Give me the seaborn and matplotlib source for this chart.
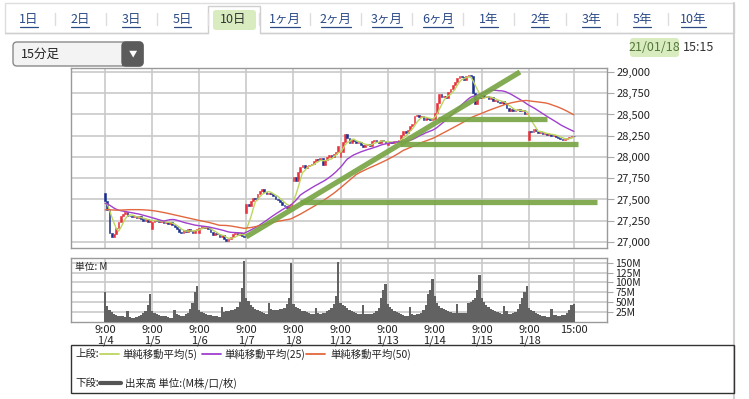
import numpy as np
import pandas as pd
import matplotlib
import matplotlib.pyplot as plt
import seaborn as sns
from matplotlib.patches import Rectangle, FancyBboxPatch
from matplotlib.lines import Line2D

matplotlib.use('agg')
sns.set_style('white')
plt.rcParams['font.family'] = ['Noto Sans CJK JP', 'DejaVu Sans']

# ---- data (15-minute bars, 21 per day) ----
DAYS = ['1/4', '1/5', '1/6', '1/7', '1/8', '1/12', '1/13', '1/14', '1/15', '1/18']
BARS_PER_DAY = 21
DAY_OPEN = [27575, 27151, 27102, 27340, 27720, 28004, 28140, 28446, 28690, 28200]

C_0104 = [27480, 27380, 27100, 27060, 27090, 27160, 27230, 27300, 27330, 27350, 27310,
          27300, 27290, 27300, 27280, 27300, 27270, 27250, 27270, 27240, 27258]
C_0105 = [27240, 27260, 27250, 27230, 27250, 27220, 27240, 27210, 27230, 27200, 27180,
          27150, 27120, 27110, 27140, 27120, 27150, 27130, 27110, 27140, 27158]
C_0106 = [27170, 27190, 27160, 27180, 27150, 27120, 27080, 27100, 27090, 27060, 27080,
          27040, 27010, 27030, 27060, 27090, 27100, 27080, 27100, 27070, 27055]
C_0107 = [27450, 27420, 27480, 27520, 27500, 27560, 27600, 27620, 27590, 27570, 27580,
          27560, 27540, 27510, 27490, 27470, 27440, 27420, 27400, 27420, 27450]
C_0108 = [27760, 27720, 27820, 27880, 27900, 27870, 27890, 27910, 27920, 27950, 27980,
          27960, 27990, 27900, 27960, 28000, 28020, 28000, 28040, 28060, 28130]
C_0112 = [28060, 28180, 28270, 28220, 28170, 28200, 28190, 28170, 28180, 28140, 28120,
          28140, 28150, 28130, 28190, 28200, 28180, 28170, 28200, 28190, 28164]
C_0113 = [28160, 28180, 28170, 28190, 28180, 28200, 28260, 28300, 28280, 28320, 28360,
          28390, 28480, 28490, 28470, 28480, 28440, 28460, 28450, 28440, 28456]
C_0114 = [28520, 28640, 28740, 28700, 28720, 28690, 28760, 28800, 28850, 28880, 28930,
          28950, 28940, 28900, 28950, 28960, 28950, 28750, 28620, 28700, 28698]
C_0115 = [28730, 28700, 28720, 28680, 28700, 28660, 28670, 28650, 28640, 28660, 28620,
          28580, 28540, 28560, 28540, 28550, 28560, 28540, 28550, 28510, 28519]
C_0118 = [28300, 28290, 28330, 28310, 28280, 28290, 28270, 28280, 28260, 28270, 28250,
          28260, 28240, 28220, 28210, 28200, 28210, 28220, 28230, 28250, 28242]

# closes before 1/4 (not shown), only used for the moving averages
PRIOR_CLOSES = [27150, 27180, 27200, 27190, 27220, 27240, 27230, 27250, 27260, 27270,
                27260, 27280, 27290, 27300, 27310, 27300, 27320, 27330, 27340, 27360,
                27400, 27430, 27450, 27470, 27480, 27500, 27490, 27510, 27520, 27500,
                27480, 27460, 27450, 27440, 27430, 27420, 27430, 27440, 27420, 27410,
                27430, 27440, 27450, 27430, 27420, 27440, 27450, 27460, 27444]

# volume, M shares
V_0104 = [75, 40, 30, 25, 20, 18, 16, 15, 14, 13, 29, 12, 10, 11, 13, 15, 18, 22, 28, 42, 70]
V_0105 = [27, 23, 20, 18, 16, 15, 14, 12, 11, 10, 31, 19, 17, 16, 15, 19, 24, 32, 48, 75, 90]
V_0106 = [30, 25, 22, 20, 18, 17, 16, 15, 14, 13, 38, 26, 27, 29, 30, 31, 33, 38, 50, 85, 155]
V_0107 = [60, 52, 42, 38, 34, 31, 28, 25, 22, 20, 48, 32, 31, 30, 30, 32, 33, 35, 45, 62, 150]
V_0108 = [45, 38, 35, 32, 29, 27, 25, 23, 21, 19, 35, 22, 20, 22, 24, 27, 30, 36, 45, 65, 152]
V_0112 = [48, 44, 40, 35, 31, 27, 25, 23, 20, 19, 44, 20, 19, 20, 20, 23, 27, 35, 60, 80, 95]
V_0113 = [45, 38, 33, 28, 25, 22, 20, 18, 16, 15, 37, 19, 18, 21, 20, 24, 30, 44, 70, 80, 108]
V_0114 = [65, 48, 40, 36, 33, 30, 28, 26, 24, 22, 45, 23, 23, 22, 24, 48, 50, 55, 62, 80, 118]
V_0115 = [62, 50, 42, 38, 34, 30, 27, 25, 23, 21, 40, 27, 21, 19, 22, 26, 33, 45, 60, 75, 90]
V_0118 = [35, 30, 27, 23, 20, 18, 16, 15, 13, 12, 34, 18, 17, 16, 16, 17, 18, 22, 30, 42, 45]

# hand-drawn trend lines: (bar position, price) pairs
TREND_LINES = [
    [(62.9, 27060), (185.0, 29000)],
    [(87.0, 27475), (219.3, 27475)],
    [(131.5, 28150), (210.9, 28150)],
    [(148.5, 28447), (197.1, 28447)],
]

MA_WINDOWS = [5, 25, 50]
MA_COLORS = ['#bcd660', '#a13fcf', '#e2673f']
MA_LABELS = ['単純移動平均(5)', '単純移動平均(25)', '単純移動平均(50)']
TABS = ['1日', '2日', '3日', '5日', '10日', '1ヶ月', '2ヶ月', '3ヶ月', '6ヶ月',
        '1年', '2年', '3年', '5年', '10年']
SELECTED_TAB = '10日'

# ---- assemble bars ----
closes = np.array(C_0104 + C_0105 + C_0106 + C_0107 + C_0108 +
                  C_0112 + C_0113 + C_0114 + C_0115 + C_0118, dtype=float)
volumes = np.array(V_0104 + V_0105 + V_0106 + V_0107 + V_0108 +
                   V_0112 + V_0113 + V_0114 + V_0115 + V_0118, dtype=float)
n = len(closes)
pos = np.arange(n)
opens = np.r_[np.nan, closes[:-1]]
for d, o in enumerate(DAY_OPEN):
    opens[d * BARS_PER_DAY] = o

full = pd.Series(PRIOR_CLOSES + list(closes))
ma_frames = []
for w, lab in zip(MA_WINDOWS, MA_LABELS):
    ma = full.rolling(w).mean().to_numpy()[-n:]
    ma_frames.append(pd.DataFrame({'pos': pos, 'value': ma, 'series': lab}))
ma_df = pd.concat(ma_frames, ignore_index=True)

# ---- figure in pixel layout ----
W, H = 749, 399
fig = plt.figure(figsize=(W / 100, H / 100), dpi=100)


def box(x0, y0, x1, y1):
    return [x0 / W, 1 - y1 / H, (x1 - x0) / W, (y1 - y0) / H]


ui = fig.add_axes([0, 0, 1, 1], zorder=0)
ui.set_xlim(0, W)
ui.set_ylim(H, 0)
ui.axis('off')

ax_p = fig.add_axes(box(71, 68, 607, 248), zorder=2)
ax_v = fig.add_axes(box(71, 258, 607, 322), zorder=2)

grid_c = '#c9c9c9'
spine_c = '#9a9a9a'
day_ticks = [d * BARS_PER_DAY for d in range(len(DAYS))]
xlim = (-15.2, 223.8)

# price panel
up = closes >= opens
colors = np.where(up, '#e8313a', '#1b2f8f')
body = np.maximum(np.abs(closes - opens), 8)
ax_p.bar(pos, body, bottom=np.minimum(opens, closes), width=0.8,
         color=colors, edgecolor=colors, linewidth=0.4, zorder=3)
sns.lineplot(data=ma_df, x='pos', y='value', hue='series', palette=MA_COLORS,
             hue_order=MA_LABELS, linewidth=1.0, legend=False, ax=ax_p,
             estimator=None, sort=False, zorder=4)
for (x0, y0), (x1, y1) in TREND_LINES:
    ax_p.plot([x0, x1], [y0, y1], color='#78a545', lw=3.8, alpha=0.92,
              solid_capstyle='butt', zorder=5, clip_on=False)

ax_p.set_xlim(*xlim)
ax_p.set_ylim(26929, 29047)
yt = np.arange(27000, 29001, 250)
ax_p.set_yticks(yt)
ax_p.set_yticklabels([f'{v:,}' for v in yt])
ax_p.set_xticks(day_ticks + [n - 1])
ax_p.tick_params(axis='x', length=0, labelbottom=False)
ax_p.yaxis.tick_right()
ax_p.tick_params(axis='y', length=5, color='#aaaaaa', labelsize=8, pad=2,
                 labelcolor='#222222')
ax_p.grid(True, color=grid_c, lw=1.2)
ax_p.set_axisbelow(True)
ax_p.set_xlabel('')
ax_p.set_ylabel('')

# volume panel
sns.barplot(x=pos, y=volumes, native_scale=True, color='#626262', saturation=1,
            width=1.0, linewidth=0, errorbar=None, ax=ax_v, zorder=3)
ax_v.set_xlim(*xlim)
ax_v.set_ylim(0, 162)
vt = np.arange(25, 151, 25)
ax_v.set_yticks(vt)
ax_v.set_yticklabels([f'{v}M' for v in vt])
ax_v.yaxis.tick_right()
ax_v.tick_params(axis='y', length=4, color='#aaaaaa', labelsize=7.5, pad=2,
                 labelcolor='#222222')
xt = day_ticks + [n - 1]
ax_v.set_xticks(xt)
ax_v.set_xticklabels([f'9:00\n{d}' for d in DAYS] + ['15:00'],
                     fontsize=8, linespacing=1.05, color='#222222')
ax_v.tick_params(axis='x', length=0, pad=2)
ax_v.grid(True, color=grid_c, lw=1.2)
ax_v.set_axisbelow(True)
ax_v.set_xlabel('')
ax_v.set_ylabel('')
ax_v.text(0.008, 0.93, '単位: M', transform=ax_v.transAxes, fontsize=7,
          va='top', ha='left', color='#222222', zorder=6)

for a in (ax_p, ax_v):
    for s in a.spines.values():
        s.set_color(spine_c)
        s.set_linewidth(1.0)

# ---- UI chrome ----
line_c = '#cfcfcf'
ui.add_patch(Rectangle((5, 3), 729, 30, fill=False, ec='#dddddd', lw=1))
ui.plot([5, 208], [33, 33], color=line_c, lw=1)
ui.plot([260, 734], [33, 33], color=line_c, lw=1)
ui.plot([208, 208, 260, 260], [33, 6, 6, 33], color=line_c, lw=1)
ui.add_patch(Rectangle((209, 7), 50, 27, color='white', zorder=1))
ui.add_patch(FancyBboxPatch((213, 10), 43, 20, boxstyle='round,pad=0,rounding_size=3',
                            fc='#d8ecc0', ec='none', zorder=2))
ui.plot([734, 734], [3, 399], color=line_c, lw=1.5)

tab_texts = []
for k, t in enumerate(TABS):
    cx = 29 + 51.1 * k
    sel = t == SELECTED_TAB
    tt = ui.text(cx, 19, t, ha='center', va='center', fontsize=9,
                 color='#333333' if sel else '#2b4a86', zorder=3)
    if not sel:
        tab_texts.append(tt)
    if k < len(TABS) - 1:
        ui.plot([cx + 25.5, cx + 25.5], [13, 25], color='#dddddd', lw=1)

# dropdown
ui.add_patch(FancyBboxPatch((13, 42), 130, 24, boxstyle='round,pad=0,rounding_size=4',
                            fc='#f3f3f3', ec='#8a8a8a', lw=1, zorder=2))
ui.add_patch(FancyBboxPatch((122, 42), 21, 24, boxstyle='round,pad=0,rounding_size=4',
                            fc='#5b5b5b', ec='#5b5b5b', lw=1, zorder=3))
ui.add_patch(Rectangle((122, 42.5), 6, 23, fc='#5b5b5b', ec='none', zorder=3))
ui.text(132.5, 54, '▼', ha='center', va='center', fontsize=6, color='white', zorder=4)
ui.text(21, 54.5, '15分足', ha='left', va='center', fontsize=9, color='#222222', zorder=4)

# date stamp
ui.add_patch(FancyBboxPatch((630, 38), 49, 19, boxstyle='round,pad=0,rounding_size=3',
                            fc='#d8ecc0', ec='none', zorder=2))
ui.text(654.5, 47.5, '21/01/18', ha='center', va='center', fontsize=9,
        color='#55773a', zorder=3)
ui.text(683, 47.5, '15:15', ha='left', va='center', fontsize=9, color='#333333', zorder=3)

# legend box
ui.add_patch(Rectangle((71, 345), 663, 48, fill=False, ec='#333333', lw=1, zorder=2))
ui.text(75, 354, '上段:', ha='left', va='center', fontsize=7.5, color='#222222')
leg_x = [(100, 122), (202, 224), (306, 330)]
for (lx, tx), c, lab in zip(leg_x, MA_COLORS, MA_LABELS):
    ui.plot([lx, lx + 19], [354, 354], color=c, lw=1.3)
    ui.text(tx, 354, lab, ha='left', va='center', fontsize=7.5, color='#222222')
ui.text(75, 383, '下段:', ha='left', va='center', fontsize=7.5, color='#222222')
ui.plot([100, 121], [383, 383], color='#555555', lw=3)
ui.text(125, 383, '出来高 単位:(M株/口/枚)', ha='left', va='center', fontsize=7.5,
        color='#222222')

# underline the tab links (pixel coordinates of the drawn text)
renderer = fig.canvas.get_renderer()
for tt in tab_texts:
    bb = tt.get_window_extent(renderer=renderer)
    y_line = bb.y0 - 1.5
    fig.add_artist(Line2D([bb.x0 + 1, bb.x1 - 1], [y_line, y_line], transform=None,
                          color='#2b4a86', lw=0.9))

fig.savefig('out.png', dpi=100)
plt.close(fig)
